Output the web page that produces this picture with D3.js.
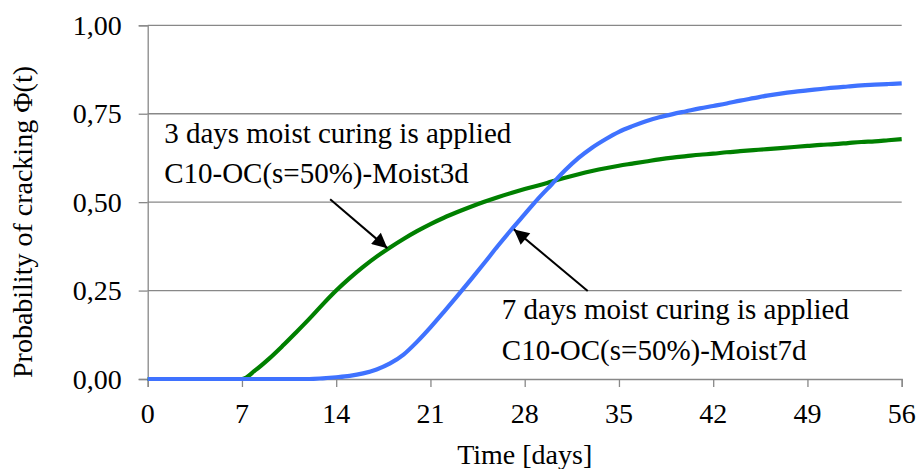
<!DOCTYPE html>
<html><head><meta charset="utf-8"><script src="https://cdn.jsdelivr.net/npm/d3@7"></script></head>
<body style="margin:0">
<script>
// Time axis (days) and the probability of cracking for each curing regime
const days = d3.range(0, 57);
const moist3d = [
  0, 0, 0, 0, 0, 0, 0, 0, 0.025, 0.057,
  0.093, 0.131, 0.170, 0.211, 0.250, 0.285, 0.317, 0.346, 0.372, 0.396,
  0.418, 0.438, 0.456, 0.472, 0.487, 0.501, 0.514, 0.526, 0.537, 0.547,
  0.558, 0.569, 0.579, 0.588, 0.596, 0.603, 0.609, 0.615, 0.621, 0.626,
  0.630, 0.634, 0.637, 0.641, 0.644, 0.647, 0.650, 0.653, 0.656, 0.659,
  0.662, 0.664, 0.667, 0.670, 0.672, 0.675, 0.678
];
const moist7d = [
  0, 0, 0, 0, 0, 0, 0, 0, 0, 0,
  0, 0, 0, 0.002, 0.005, 0.009, 0.016, 0.027, 0.044, 0.069,
  0.105, 0.146, 0.190, 0.235, 0.281, 0.328, 0.376, 0.422, 0.466, 0.510,
  0.550, 0.590, 0.625, 0.654, 0.678, 0.699, 0.715, 0.729, 0.740, 0.749,
  0.757, 0.765, 0.772, 0.779, 0.787, 0.794, 0.801, 0.807, 0.812, 0.816,
  0.820, 0.824, 0.827, 0.830, 0.832, 0.834, 0.836
];

const xTicks = [0, 7, 14, 21, 28, 35, 42, 49, 56];
const yTicks = [0, 0.25, 0.5, 0.75, 1];
const yTickLabels = ["0,00", "0,25", "0,50", "0,75", "1,00"];

const seriesNames = ["C10-OC(s=50%)-Moist3d", "C10-OC(s=50%)-Moist7d"];
const seriesNotes = ["3 days moist curing is applied", "7 days moist curing is applied"];
const seriesColors = ["#008000", "#3f72ff"];

// Callouts: where each label sits and where its arrow points (data units)
const noteAnchors = [
  { t: 1.22, v: 0.668 },
  { t: 26.3, v: 0.169 }
];
const arrowTails = [ { t: 13.55, v: 0.508 }, { t: 32.68, v: 0.249 } ];
const arrowTips  = [ { t: 17.8, v: 0.370 }, { t: 27.2, v: 0.423 } ];

const W = 920, H = 469;
const margin = { left: 147.7, right: 18.3, top: 25.3, bottom: 90 };

const svg = d3.select("body").append("svg")
  .attr("width", W).attr("height", H)
  .style("display", "block");

const x = d3.scaleLinear().domain([0, 56]).range([margin.left, W - margin.right]);
const y = d3.scaleLinear().domain([0, 1]).range([H - margin.bottom, margin.top]);

const gridColor = "#888888";

// horizontal gridlines
svg.append("g")
  .selectAll("line")
  .data(yTicks.filter(d => d > 0))
  .join("line")
  .attr("x1", x(0)).attr("x2", x(56))
  .attr("y1", d => y(d)).attr("y2", d => y(d))
  .attr("stroke", gridColor).attr("stroke-width", 1.3);

// y axis line and ticks
const yAxis = d3.axisLeft(y)
  .tickValues(yTicks)
  .tickSize(9)
  .tickFormat("");
const gy = svg.append("g").attr("transform", `translate(${x(0)},0)`).call(yAxis);
gy.select(".domain").attr("stroke", gridColor).attr("stroke-width", 1.3);
gy.selectAll(".tick line").attr("stroke", gridColor).attr("stroke-width", 1.3);

// x axis line and ticks
const xAxis = d3.axisBottom(x)
  .tickValues(xTicks)
  .tickSize(8)
  .tickFormat("");
const gx = svg.append("g").attr("transform", `translate(0,${y(0)})`).call(xAxis);
gx.select(".domain").attr("stroke", gridColor).attr("stroke-width", 1.3);
gx.selectAll(".tick line").attr("stroke", gridColor).attr("stroke-width", 1.3);

// tick labels, set in the serif face
svg.append("g").selectAll("text").data(yTicks).join("text")
  .attr("x", x(0) - 26)
  .attr("y", d => y(d) + 9.5)
  .attr("text-anchor", "end")
  .style("font-family", "'Liberation Serif'")
  .style("font-size", "28px")
  .text((d, i) => yTickLabels[i]);

svg.append("g").selectAll("text").data(xTicks).join("text")
  .attr("x", d => x(d))
  .attr("y", y(0) + 44)
  .attr("text-anchor", "middle")
  .style("font-family", "'Liberation Serif'")
  .style("font-size", "28px")
  .text(d => d);

// axis titles
svg.append("text")
  .attr("x", (x(0) + x(56)) / 2)
  .attr("y", 463.5)
  .attr("text-anchor", "middle")
  .style("font-family", "'Liberation Serif'")
  .style("font-size", "28px")
  .text("Time [days]");

svg.append("text")
  .attr("transform", "translate(32,222) rotate(-90)")
  .attr("text-anchor", "middle")
  .style("font-family", "'Liberation Serif'")
  .style("font-size", "28px")
  .text("Probability of cracking Φ(t)");

// curves
const line = d3.line()
  .x(d => x(d[0]))
  .y(d => y(d[1]))
  .curve(d3.curveMonotoneX);

[moist3d, moist7d].forEach((vals, i) => {
  svg.append("path")
    .datum(days.map((t, k) => [t, vals[k]]))
    .attr("fill", "none")
    .attr("stroke", seriesColors[i])
    .attr("stroke-width", 4.2)
    .attr("stroke-linejoin", "round")
    .attr("d", line);
});

// callout labels, two lines each
noteAnchors.forEach((a, i) => {
  [seriesNotes[i], seriesNames[i]].forEach((s, k) => {
    svg.append("text")
      .attr("x", x(a.t))
      .attr("y", y(a.v) + k * 40.5)
      .style("font-family", "'Liberation Serif'")
      .style("font-size", "29px")
      .text(s);
  });
});

// callout arrows
svg.append("defs").append("marker")
  .attr("id", "arrowhead")
  .attr("viewBox", "0 0 10 10")
  .attr("refX", 10).attr("refY", 5)
  .attr("markerWidth", 8.5).attr("markerHeight", 7.5)
  .attr("markerUnits", "strokeWidth")
  .attr("orient", "auto")
  .append("path")
  .attr("d", "M0,0 L10,5 L0,10 z")
  .attr("fill", "#000");

arrowTails.forEach((s, i) => {
  const e = arrowTips[i];
  svg.append("line")
    .attr("x1", x(s.t)).attr("y1", y(s.v))
    .attr("x2", x(e.t)).attr("y2", y(e.v))
    .attr("stroke", "#000")
    .attr("stroke-width", 2)
    .attr("marker-end", "url(#arrowhead)");
});
</script>
</body></html>
